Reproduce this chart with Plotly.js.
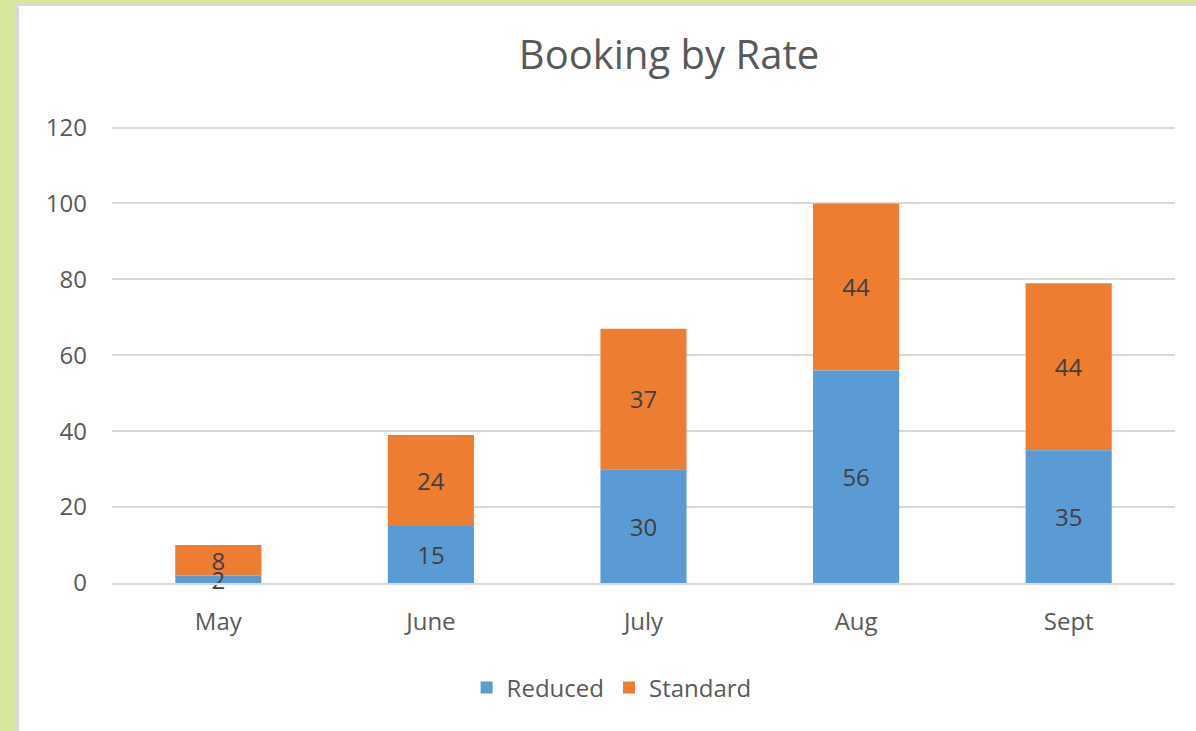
<!DOCTYPE html>
<html>
<head>
<meta charset="utf-8">
<script src="https://cdn.plot.ly/plotly-3.0.1.min.js"></script>
<style>
  html, body { margin:0; padding:0; width:1196px; height:731px; overflow:hidden; background:#d8e7a0; }
  #frame { position:absolute; left:16px; top:3px; width:1177px; height:725px; border-left:3px solid #d9d9d9; border-top:3px solid #d9d9d9; background:#fff; }
  #chart { width:1177px; height:725px; }
</style>
</head>
<body>
<div id="frame"><div id="chart"></div></div>
<script>
const months = ["May", "June", "July", "Aug", "Sept"];
const reduced = [2, 15, 30, 56, 35];
const standard = [8, 24, 37, 44, 44];
const yTicks = [0, 20, 40, 60, 80, 100, 120];

const font = "Open Sans, Noto Sans, sans-serif";
const common = {
  type: "bar",
  x: months,
  textposition: "inside",
  insidetextanchor: "middle",
  constraintext: "none",
  textangle: 0,
  cliponaxis: false,
  textfont: { family: font, size: 24, color: "#404040" },
  hoverinfo: "skip"
};
// Standard is stacked on top of Reduced (base = reduced); Reduced is drawn last so its labels stay visible
const traces = [
  Object.assign({}, common, { name: "Standard", y: standard, base: reduced, text: standard.map(String), marker: { color: "#ed7d31" }, legendrank: 2 }),
  Object.assign({}, common, { name: "Reduced", y: reduced, text: reduced.map(String), marker: { color: "#5b9bd5" }, legendrank: 1 })
];

const layout = {
  width: 1177, height: 725,
  margin: { l: 93, r: 21, t: 120, b: 148 },
  paper_bgcolor: "#ffffff", plot_bgcolor: "#ffffff",
  barmode: "overlay",
  bargap: 0.595,
  title: { text: "Booking by Rate", font: { family: font, size: 40, color: "#595959" }, x: 650 / 1177, xanchor: "center", xref: "container", y: 1 - 49/725, yanchor: "middle", yref: "container" },
  xaxis: { showgrid: false, zeroline: false, showline: true, linecolor: "#d9d9d9", linewidth: 2, ticks: "", tickfont: { family: font, size: 24, color: "#595959" }, ticklabelstandoff: 16 },
  yaxis: { range: [0, 120.4], tickvals: yTicks, showgrid: true, gridcolor: "#d9d9d9", gridwidth: 2, zeroline: false, showline: false, ticks: "", tickfont: { family: font, size: 24, color: "#595959" }, ticklabelstandoff: 24 },
  legend: { orientation: "h", x: 0.47, xanchor: "center", y: -(682 - 577) / 457, yanchor: "middle", font: { family: font, size: 24, color: "#595959" }, itemwidth: 30 },
  showlegend: true
};

Plotly.newPlot("chart", traces, layout, { displayModeBar: false, staticPlot: true });
</script>
</body>
</html>
